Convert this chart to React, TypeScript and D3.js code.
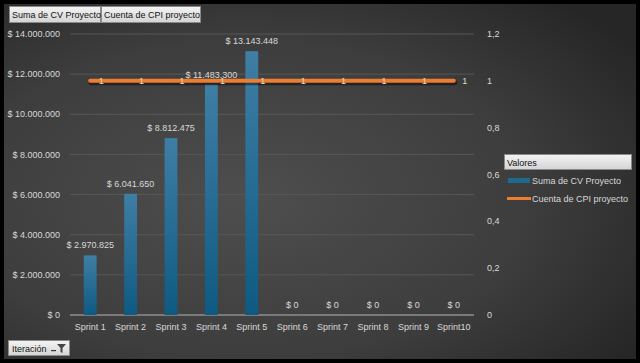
import * as d3 from 'd3'

const WIDTH = 640
const HEIGHT = 363
const MARGIN = { top: 34, right: 166, bottom: 48, left: 70 }

const categories = ['Sprint 1', 'Sprint 2', 'Sprint 3', 'Sprint 4', 'Sprint 5', 'Sprint 6', 'Sprint 7', 'Sprint 8', 'Sprint 9', 'Sprint10']
const cvValues = [2970825, 6041650, 8812475, 11483300, 13143448, 0, 0, 0, 0, 0]
const cpiValues = [1, 1, 1, 1, 1, 1, 1, 1, 1, 1]
const leftTicks = [0, 2000000, 4000000, 6000000, 8000000, 10000000, 12000000, 14000000]
const rightTicks = [0, 0.2, 0.4, 0.6, 0.8, 1, 1.2]

const FONT = '"Liberation Sans", Arial, sans-serif'
const FS = 9
const TEXT = '#d9d9d9'
const BLUE = '#1d6990'
const ORANGE = '#ed7d31'

const locale = d3.formatLocale({ decimal: ',', thousands: '.', grouping: [3], currency: ['$ ', ''] })
const money = locale.format('$,.0f')
const dec = (v: number) => locale.format(',.1~f')(v)

export default function App() {
  const innerW = WIDTH - MARGIN.left - MARGIN.right
  const innerH = HEIGHT - MARGIN.top - MARGIN.bottom

  const x = d3.scaleBand().domain(categories).range([0, innerW])
  const yL = d3.scaleLinear().domain([0, 14000000]).range([innerH, 0])
  const yR = d3.scaleLinear().domain([0, 1.2]).range([innerH, 0])
  const barW = x.bandwidth() / 3.15
  const cx = (c: string) => (x(c) ?? 0) + x.bandwidth() / 2

  const line = d3.line<number>()
    .x((_, i) => cx(categories[i]))
    .y(d => yR(d))
  const path = line(cpiValues) ?? ''

  return (
    <svg width={WIDTH} height={HEIGHT} style={{ position: 'absolute', left: 0, top: 0, fontFamily: FONT }}>
      <defs>
        <radialGradient id="bg" cx="0.38" cy="0.55" r="0.75">
          <stop offset="0" stopColor="#4e4e4e" />
          <stop offset="0.6" stopColor="#3d3d3d" />
          <stop offset="1" stopColor="#262626" />
        </radialGradient>
        <linearGradient id="bar" x1="0" y1="0" x2="0" y2="1">
          <stop offset="0" stopColor="#3f7ea5" />
          <stop offset="1" stopColor="#0e5a82" />
        </linearGradient>
        <linearGradient id="btn" x1="0" y1="0" x2="0" y2="1">
          <stop offset="0" stopColor="#f4f4f4" />
          <stop offset="1" stopColor="#d4d4d4" />
        </linearGradient>
      </defs>
      <rect width={WIDTH} height={HEIGHT} fill="#000" />
      <rect x={4} y={4} width={632} height={355} fill="url(#bg)" />

      {/* field buttons */}
      <g fontSize={FS} fill="#111">
        <rect x={9.5} y={6.5} width={91} height={16} fill="url(#btn)" stroke="#8a8a8a" />
        <text x={12} y={18}>Suma de CV Proyecto</text>
        <rect x={101.5} y={6.5} width={99} height={16} fill="url(#btn)" stroke="#8a8a8a" />
        <text x={104} y={18}>Cuenta de CPI proyecto</text>
        <rect x={8.5} y={340.5} width={61} height={15} fill="url(#btn)" stroke="#8a8a8a" />
        <text x={12} y={351.5}>Iteración</text>
        <path d="M51,350 h5 v1.2 h-5 z" fill="#333" />
        <path d="M57,344 h9 l-3.5,4 v5 l-2,-1 v-4 z" fill="#444" />
      </g>

      <g transform={`translate(${MARGIN.left},${MARGIN.top})`}>
        {leftTicks.map(t => (
          <g key={t} transform={`translate(0,${yL(t)})`}>
            {t > 0 && <line x1={0} x2={innerW} stroke="#575757" strokeWidth={1} />}
            <text x={-10} dy="0.35em" textAnchor="end" fontSize={FS} fill={TEXT}>{money(t)}</text>
          </g>
        ))}
        <line x1={0} x2={innerW} y1={innerH} y2={innerH} stroke="#7a7a7a" strokeWidth={2} />

        {rightTicks.map(t => (
          <text key={t} x={innerW + 13} y={yR(t)} dy="0.35em" fontSize={FS} fill={TEXT}>{dec(t)}</text>
        ))}

        {categories.map(c => (
          <text key={c} x={cx(c)} y={innerH + 15} textAnchor="middle" fontSize={FS} fill={TEXT}>{c}</text>
        ))}

        {cvValues.map((v, i) => (
          <g key={categories[i]}>
            {v > 0 && (
              <rect x={cx(categories[i]) - barW / 2} y={yL(v)} width={barW} height={innerH - yL(v)} fill="url(#bar)" />
            )}
            <text x={cx(categories[i])} y={yL(v) - 7} textAnchor="middle" fontSize={FS} fill={TEXT}>{money(v)}</text>
          </g>
        ))}

        <path d={path} transform="translate(1,2)" fill="none" stroke="#000" strokeOpacity={0.45} strokeWidth={5} strokeLinecap="round" />
        <path d={path} fill="none" stroke={ORANGE} strokeWidth={4} strokeLinecap="round" />
        {cpiValues.map((v, i) => (
          <text key={i} x={cx(categories[i]) + 11} y={yR(v)} dy="0.35em" textAnchor="middle" fontSize={FS} fill="#e6dcc0">{dec(v)}</text>
        ))}
      </g>

      {/* legend */}
      <g fontSize={FS}>
        <rect x={504.5} y={154.5} width={127} height={15} fill="url(#btn)" stroke="#8a8a8a" />
        <text x={507} y={165.5} fill="#111">Valores</text>
        <rect x={508} y={178} width={22} height={5} fill={BLUE} />
        <text x={532} y={183.5} fill={TEXT}>Suma de CV Proyecto</text>
        <line x1={507} x2={531} y1={198.5} y2={198.5} stroke={ORANGE} strokeWidth={3} />
        <text x={532} y={201.5} fill={TEXT}>Cuenta de CPI proyecto</text>
      </g>
    </svg>
  )
}
